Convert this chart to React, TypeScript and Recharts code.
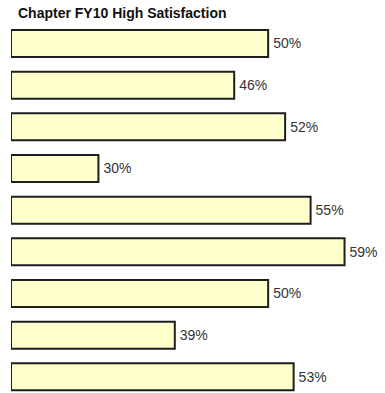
import React from "react";
import { BarChart, Bar, XAxis, YAxis, LabelList } from "recharts";

const categories = ["Q1", "Q2", "Q3", "Q4", "Q5", "Q6", "Q7", "Q8", "Q9"];
const values = [50, 46, 52, 30, 55, 59, 50, 39, 53];
const title = "Chapter FY10 High Satisfaction";

const data = categories.map((c, i) => ({ name: c, value: values[i] }));

export default function App() {
  return (
    <div
      style={{
        position: "fixed",
        left: 0,
        top: 0,
        width: 385,
        height: 393,
        overflow: "hidden",
        background: "#fff",
      }}
    >
      <div
        style={{
          position: "absolute",
          left: 18,
          top: 5,
          fontFamily: "'Liberation Sans', Arial, sans-serif",
          fontWeight: "bold",
          fontSize: 14,
          color: "#111",
          lineHeight: "16px",
          whiteSpace: "nowrap",
        }}
      >
        {title}
      </div>
      <BarChart
        width={385}
        height={398}
        data={data}
        layout="vertical"
        margin={{ top: 23, right: 15, bottom: 0, left: 11 }}
        barSize={27}
      >
        <XAxis type="number" hide domain={[19.7, 62]} allowDataOverflow />
        <YAxis type="category" dataKey="name" hide />
        <Bar
          dataKey="value"
          fill="#FFFFCC"
          stroke="#1e1e1e"
          strokeWidth={2}
          isAnimationActive={false}
        >
          <LabelList
            dataKey="value"
            position="right"
            offset={5}
            formatter={(v: number) => `${v}%`}
            style={{
              fontFamily: "'Liberation Sans', Arial, sans-serif",
              fontSize: 14,
              fill: "#333",
            }}
          />
        </Bar>
      </BarChart>
    </div>
  );
}
